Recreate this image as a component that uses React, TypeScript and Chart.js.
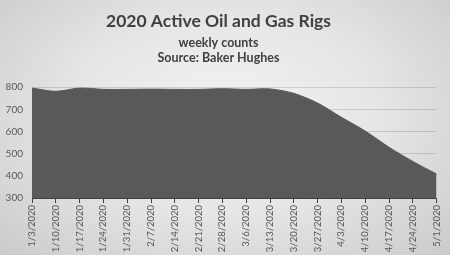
import React, { useEffect, useRef } from "react";
import { Chart, registerables } from "chart.js";

Chart.register(...registerables);

const weeks = [
  "1/3/2020", "1/10/2020", "1/17/2020", "1/24/2020", "1/31/2020", "2/7/2020",
  "2/14/2020", "2/21/2020", "2/28/2020", "3/6/2020", "3/13/2020", "3/20/2020",
  "3/27/2020", "4/3/2020", "4/10/2020", "4/17/2020", "4/24/2020", "5/1/2020",
];
const rigCounts = [796, 781, 796, 790, 790, 791, 790, 790, 793, 790, 792, 772, 728, 664, 602, 529, 465, 408];
const yTicks = [300, 400, 500, 600, 700, 800];

const titleText = "2020 Active Oil and Gas Rigs";
const subtitleLines = ["weekly counts", "Source: Baker Hughes"];

export default function App() {
  const ref = useRef<HTMLCanvasElement | null>(null);
  useEffect(() => {
    if (!ref.current) return;
    const font = "Lato, 'Open Sans', sans-serif";
    const chart = new Chart(ref.current, {
      type: "line",
      data: {
        labels: weeks,
        datasets: [
          {
            data: rigCounts,
            fill: "start",
            backgroundColor: "#595959",
            borderColor: "#595959",
            borderWidth: 1,
            pointRadius: 0,
            tension: 0.3,
          },
        ],
      },
      options: {
        animation: false,
        responsive: false,
        maintainAspectRatio: false,
        layout: { padding: { top: 11, right: 13, left: 0, bottom: 0 } },
        plugins: {
          legend: { display: false },
          tooltip: { enabled: false },
          title: {
            display: true,
            text: titleText,
            color: "#404040",
            font: { family: font, size: 17.5, weight: "bold", lineHeight: 1.15 },
            padding: { top: 0, bottom: 4 },
          },
          subtitle: {
            display: true,
            text: subtitleLines,
            color: "#404040",
            font: { family: font, size: 12.5, weight: "bold", lineHeight: 1.2 },
            padding: { top: 0, bottom: 22 },
          },
        },
        scales: {
          x: {
            offset: false,
            grid: {
              drawOnChartArea: false,
              drawTicks: true,
              tickLength: 5,
              color: "#404040",
            },
            border: { color: "#404040", width: 1 },
            ticks: {
              color: "#595959",
              font: { family: font, size: 9.5 },
              minRotation: 90,
              maxRotation: 90,
              autoSkip: false,
              padding: 2,
            },
            afterFit: (s: any) => {
              s.height = 57;
            },
          },
          y: {
            min: 300,
            max: 800,
            z: 1,
            afterBuildTicks: (s: any) => {
              s.ticks = yTicks.map((v) => ({ value: v }));
            },
            grid: {
              color: "rgba(0,0,0,0.13)",
              drawTicks: false,
            },
            border: { display: false },
            ticks: {
              color: "#595959",
              font: { family: font, size: 10 },
              padding: 9,
            },
            afterFit: (s: any) => {
              s.width = 32;
            },
          },
        },
      },
    });
    return () => chart.destroy();
  }, []);
  return (
    <div
      style={{
        position: "fixed",
        left: 0,
        top: 0,
        width: 450,
        height: 255,
        background:
          "radial-gradient(ellipse 75% 85% at 50% 45%, #f3f3f3 0%, #e6e6e6 45%, #d2d2d2 80%, #c6c6c6 100%)",
      }}
    >
      <canvas ref={ref} width={450} height={255} style={{ display: "block" }} />
    </div>
  );
}
